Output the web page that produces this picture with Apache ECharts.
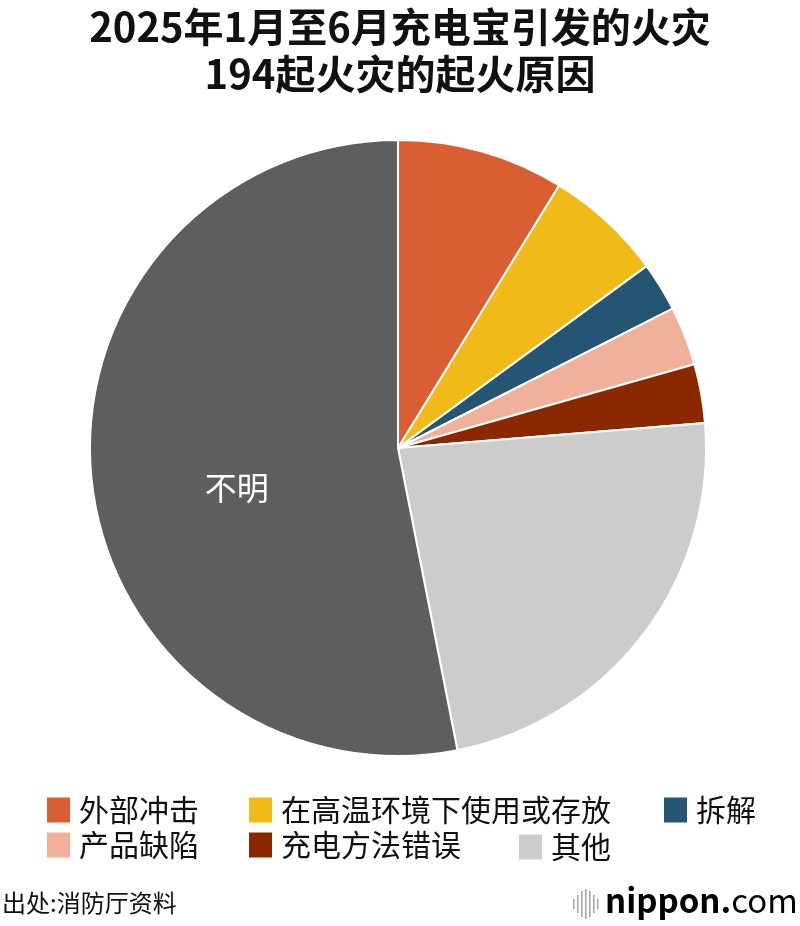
<!DOCTYPE html>
<html><head><meta charset="utf-8">
<script src="https://cdn.jsdelivr.net/npm/echarts@6/dist/echarts.min.js"></script>
<style>html,body{margin:0;padding:0;background:#fff}#c{width:800px;height:926px}</style>
</head><body><div id="c"></div>
<script>
const titleLines = ['2025年1月至6月充电宝引发的火灾', '194起火灾的起火原因'];
const categories = ['外部冲击', '在高温环境下使用或存放', '拆解', '产品缺陷', '充电方法错误', '其他', '不明'];
const values = [17, 12, 5, 6, 6, 45, 103];
const colors = ['#D95F32', '#F0BA18', '#245673', '#F0B09A', '#8B2800', '#CCCCCC', '#5E5E5E'];
const legendCol1 = ['外部冲击', '产品缺陷'];
const legendCol2 = ['在高温环境下使用或存放', '充电方法错误'];
const legendCol3 = ['拆解'];
const legendCol4 = ['其他'];
const sourceText = '出处:消防厅资料';

const FONT = '"Noto Sans CJK SC", "Noto Sans", sans-serif';
const chart = echarts.init(document.getElementById('c'), null, {renderer: 'canvas'});
const legendBase = {
  orient: 'vertical', itemWidth: 25, itemHeight: 27, itemGap: 5, padding: 0,
  icon: 'rect', selectedMode: false,
  textStyle: {fontFamily: FONT, fontSize: 30, lineHeight: 27, color: '#111', padding: [0, 0, 0, 3]}
};
const logoBars = [];
const barHeights = [10, 18, 26, 30, 26, 18, 10];
barHeights.forEach((h, i) => {
  logoBars.push({type: 'rect', shape: {x: 573 + i * 4, y: 904 - h / 2, width: 1.6, height: h}, style: {fill: '#aaa'}});
});
chart.setOption({
  backgroundColor: '#fff',
  animation: false,
  title: {
    text: titleLines.join('\n'), left: 'center', top: 3, padding: 0,
    textStyle: {fontFamily: FONT, fontSize: 40, fontWeight: 'bold', color: '#111', lineHeight: 47}
  },
  legend: [
    Object.assign({}, legendBase, {left: 45, top: 795, data: legendCol1}),
    Object.assign({}, legendBase, {left: 247, top: 795, data: legendCol2}),
    Object.assign({}, legendBase, {left: 662, top: 795, data: legendCol3}),
    Object.assign({}, legendBase, {left: 517, top: 832, data: legendCol4})
  ],
  graphic: [
    {type: 'text', left: 2, top: 891, style: {text: sourceText, font: '24px ' + FONT, fill: '#111'}},
    {type: 'text', left: 605, top: 884, style: {
      text: '{a|nippon}{b|.}{c|com}',
      rich: {
        a: {fontFamily: FONT, fontSize: 33, fontWeight: 'bold', color: '#666'},
        b: {fontFamily: FONT, fontSize: 33, fontWeight: 'bold', color: '#E8202A'},
        c: {fontFamily: FONT, fontSize: 33, fontWeight: 'normal', color: '#777'}
      }
    }}
  ].concat(logoBars),
  series: [{
    type: 'pie',
    center: [398, 448], radius: 308,
    startAngle: 90, clockwise: true,
    silent: true,
    itemStyle: {borderColor: '#fff', borderWidth: 2},
    label: {show: false},
    labelLine: {show: false},
    data: categories.map((c, i) => ({
      name: c, value: values[i], itemStyle: {color: colors[i]},
      label: c === '不明' ? {
        show: true, position: 'inside', formatter: '{e| }\n{t|{b}}', padding: [0, 10, 0, 0],
        rich: {
          e: {lineHeight: 50, fontSize: 10},
          t: {fontFamily: FONT, fontSize: 32, lineHeight: 34, color: '#fff'}
        }
      } : {show: false}
    }))
  }]
});
</script></body></html>
